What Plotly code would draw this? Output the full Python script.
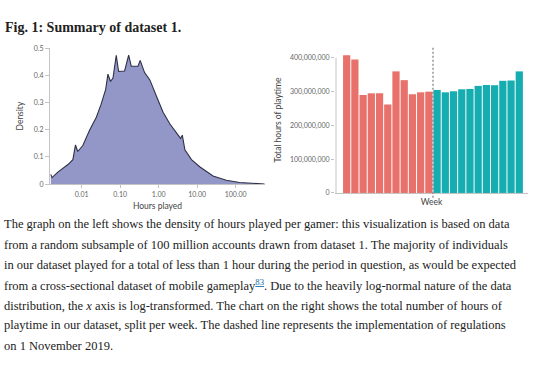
import plotly.graph_objects as go

# ---- data ----
hours = [0.00158, 0.0017, 0.0024, 0.0032, 0.0044, 0.0059, 0.0069, 0.0079, 0.0107,
         0.016, 0.024, 0.032, 0.042, 0.048, 0.056, 0.065, 0.079, 0.091, 0.13,
         0.166, 0.194, 0.29, 0.33, 0.43, 0.59, 0.87, 1.3, 1.94, 2.9, 3.7, 4.1,
         4.8, 7.1, 11.6, 25.8, 57, 126, 282, 560]
density = [0.036, 0.024, 0.044, 0.056, 0.072, 0.09, 0.144, 0.12, 0.142,
           0.198, 0.246, 0.294, 0.348, 0.404, 0.377, 0.39, 0.473, 0.414, 0.416,
           0.474, 0.433, 0.433, 0.455, 0.41, 0.383, 0.324, 0.264, 0.222, 0.186, 0.168, 0.18,
           0.126, 0.09, 0.064, 0.030, 0.014, 0.006, 0.002, 0.0005]

weeks_before = list(range(1, 12))
weeks_after = list(range(12, 23))
playtime_before = [408e6, 395e6, 290e6, 295e6, 295e6, 262e6, 360e6, 334e6, 292e6, 298e6, 300e6]
playtime_after = [305e6, 298e6, 301e6, 307e6, 308e6, 317e6, 320e6, 319e6, 332e6, 333e6, 360e6]
regulation_week = 11.5

hours_ticks = [0.01, 0.1, 1, 10, 100]
hours_ticktext = ["0.01", "0.10", "1.00", "10.00", "100.00"]
dens_ticks = [0, 0.1, 0.2, 0.3, 0.4, 0.5]
dens_ticktext = ["0", "0.1", "0.2", "0.3", "0.4", "0.5"]
play_ticks = [0, 1e8, 2e8, 3e8, 4e8]
play_ticktext = ["0", "100,000,000", "200,000,000", "300,000,000", "400,000,000"]

title_text = "<b>Fig. 1: Summary of dataset 1.</b>"
caption_lines = [
    "The graph on the left shows the density of hours played per gamer: this visualization is based on data",
    "from a random subsample of 100 million accounts drawn from dataset 1. The majority of individuals",
    "in our dataset played for a total of less than 1 hour during the period in question, as would be expected",
    "from a cross-sectional dataset of mobile gameplay<sup><span style='color:#1a6fa8;text-decoration:underline'>83</span></sup>. Due to the heavily log-normal nature of the data",
    "distribution, the <i>x</i> axis is log-transformed. The chart on the right shows the total number of hours of",
    "playtime in our dataset, split per week. The dashed line represents the implementation of regulations",
    "on 1 November 2019.",
]

W, H = 550, 380
def px(x): return x / W
def py(y): return 1 - y / H

tick_font = dict(family="Lato, sans-serif", size=7, color="#666")
title_font = dict(family="Lato, sans-serif", size=8.5, color="#444")
axis_col = "#c4c4c4"

fig = go.Figure()
fig.add_trace(go.Scatter(x=hours, y=density, mode="lines", fill="tozeroy",
                         fillcolor="#9397c8", line=dict(color="#2e3045", width=1.1),
                         xaxis="x", yaxis="y", hoverinfo="skip"))
fig.add_trace(go.Bar(x=weeks_before, y=playtime_before, marker_color="#e8716b",
                     marker_line_width=0, xaxis="x2", yaxis="y2"))
fig.add_trace(go.Bar(x=weeks_after, y=playtime_after, marker_color="#16adb1",
                     marker_line_width=0, xaxis="x2", yaxis="y2"))

fig.update_layout(
    width=W, height=H, margin=dict(l=0, r=0, t=0, b=0),
    paper_bgcolor="white", plot_bgcolor="white", showlegend=False,
    bargap=0.12,
    xaxis=dict(domain=[px(50), px(265)], type="log", range=[-2.823, 2.761],
               tickvals=hours_ticks, ticktext=hours_ticktext, tickfont=tick_font,
               showgrid=False, zeroline=False, showline=True, linecolor=axis_col, linewidth=1,
               ticks="outside", ticklen=3, tickcolor=axis_col,
               title=dict(text="Hours played", font=title_font, standoff=6), anchor="y"),
    yaxis=dict(domain=[py(183), py(44)], range=[0, 0.5],
               tickvals=dens_ticks, ticktext=dens_ticktext, tickfont=tick_font,
               showgrid=False, zeroline=False, showline=True, linecolor=axis_col, linewidth=1,
               ticks="outside", ticklen=4, tickcolor=axis_col,
               title=dict(text="Density", font=title_font, standoff=8), anchor="x"),
    xaxis2=dict(domain=[px(335), px(528)], range=[-0.42, 23.06],
                showticklabels=False, ticks="", showgrid=False, zeroline=False,
                showline=True, linecolor=axis_col, linewidth=1,
                title=dict(text="Week", font=title_font, standoff=6), anchor="y2"),
    yaxis2=dict(domain=[py(192), py(43)], range=[0, 4.319e8],
                tickvals=play_ticks, ticktext=play_ticktext, tickfont=tick_font,
                showgrid=False, zeroline=False, showline=False,
                ticks="outside", ticklen=3, tickcolor=axis_col,
                title=dict(text="Total hours of playtime", font=title_font, standoff=6), anchor="x2"),
)

# y axis line of bar chart (spans 0..400M)
fig.add_shape(type="line", xref="paper", yref="y2", x0=px(336), x1=px(336), y0=0, y1=4e8,
              line=dict(color=axis_col, width=1))
# regulation line
fig.add_shape(type="line", xref="x2", yref="paper", x0=regulation_week, x1=regulation_week,
              y0=py(197), y1=py(43), line=dict(color="#7a7a7a", width=1.2, dash="2px,2px"))

fig.add_annotation(text=title_text, xref="paper", yref="paper", x=px(3), y=py(23),
                   xanchor="left", yanchor="middle", showarrow=False,
                   font=dict(family="Liberation Serif, serif", size=14, color="#222"))

line_y = [224, 245, 266, 286, 307, 327, 348]
for t, yy in zip(caption_lines, line_y):
    fig.add_annotation(text=t, xref="paper", yref="paper", x=px(2), y=py(yy),
                       xanchor="left", yanchor="middle", showarrow=False,
                       font=dict(family="Liberation Serif, serif", size=12.5, color="#222"))

fig.write_html("out.html", config={"displayModeBar": False},
               post_script="document.body.style.margin='0';")
